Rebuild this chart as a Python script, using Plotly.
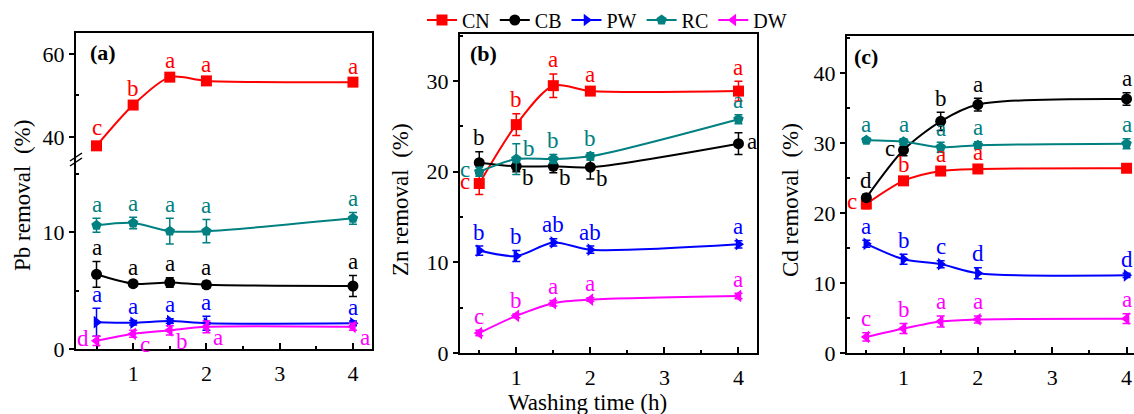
import plotly.graph_objects as go

W, H = 1134, 414
FONT = "Liberation Serif, Times New Roman, Times, serif"

x_time = [0.5, 1, 1.5, 2, 4]
series_names = ["CN", "CB", "PW", "RC", "DW"]

# ---- Pb removal (%) ----
pb_CN = [37.9, 47.7, 54.4, 53.5, 53.2]
pb_CN_err = [1.0, 0.5, 0.6, 0.5, 0.5]
pb_CB = [6.4, 5.6, 5.7, 5.5, 5.4]
pb_CB_err = [1.1, 0.2, 0.4, 0.3, 0.9]
pb_PW = [2.3, 2.25, 2.4, 2.2, 2.2]
pb_PW_err = [1.2, 0.2, 0.2, 0.6, 0.2]
pb_RC = [10.6, 10.8, 10.1, 10.1, 11.2]
pb_RC_err = [0.6, 0.5, 1.1, 1.0, 0.5]
pb_DW = [0.7, 1.3, 1.6, 1.9, 1.9]
pb_DW_err = [0.4, 0.3, 0.4, 0.5, 0.3]
pb_letters = {
    "CN": ["c", "b", "a", "a", "a"],
    "CB": ["a", "a", "a", "a", "a"],
    "PW": ["a", "a", "a", "a", "a"],
    "RC": ["a", "a", "a", "a", "a"],
    "DW": ["d", "c", "b", "a", "a"],
}

# ---- Zn removal (%) ----
zn_CN = [18.7, 25.2, 29.5, 28.9, 28.9]
zn_CN_err = [1.2, 1.2, 1.3, 0.3, 1.1]
zn_CB = [21.0, 20.6, 20.6, 20.5, 23.1]
zn_CB_err = [1.2, 0.6, 0.7, 1.3, 1.2]
zn_PW = [11.3, 10.7, 12.2, 11.4, 12.0]
zn_PW_err = [0.5, 0.6, 0.4, 0.4, 0.4]
zn_RC = [20.0, 21.4, 21.4, 21.7, 25.8]
zn_RC_err = [0.5, 1.7, 0.5, 0.4, 0.5]
zn_DW = [2.2, 4.1, 5.5, 5.9, 6.3]
zn_DW_err = [0.3, 0.2, 0.3, 0.2, 0.3]
zn_letters = {
    "CN": ["c", "b", "a", "a", "a"],
    "CB": ["b", "b", "b", "b", "a"],
    "PW": ["b", "b", "ab", "ab", "a"],
    "RC": ["c", "b", "b", "b", "a"],
    "DW": ["c", "b", "a", "a", "a"],
}

# ---- Cd removal (%) ----
cd_CN = [21.3, 24.6, 26.0, 26.3, 26.4]
cd_CN_err = [0.7, 0.4, 0.4, 0.4, 0.4]
cd_CB = [22.2, 29.0, 33.1, 35.5, 36.3]
cd_CB_err = [0.5, 0.8, 1.3, 0.9, 0.9]
cd_PW = [15.6, 13.4, 12.7, 11.4, 11.1]
cd_PW_err = [0.5, 0.7, 0.5, 0.8, 0.3]
cd_RC = [30.4, 30.2, 29.4, 29.7, 29.9]
cd_RC_err = [0.3, 0.4, 0.7, 0.5, 0.7]
cd_DW = [2.3, 3.5, 4.5, 4.8, 4.9]
cd_DW_err = [0.6, 0.7, 0.8, 0.5, 0.7]
cd_letters = {
    "CN": ["c", "b", "a", "a", "a"],
    "CB": ["d", "c", "b", "a", "a"],
    "PW": ["a", "b", "c", "d", "d"],
    "RC": ["a", "a", "a", "a", "a"],
    "DW": ["c", "b", "a", "a", "a"],
}

# ---- styles (kept separate from data) ----
colors = {"CN": "#ff0000", "CB": "#000000", "PW": "#0000ff", "RC": "#008080", "DW": "#ff00ff"}
symbols = {"CN": "square", "CB": "circle", "PW": "triangle-right", "RC": "pentagon", "DW": "triangle-left"}
# letter placement codes: u = above error bar, l = left, r = right, rd = right-down, ru = right-up
pb_pos = {
    "CN": ["u"] * 5, "CB": ["u"] * 5, "PW": ["u"] * 5, "RC": ["u"] * 5,
    "DW": ["l", "rd", "rd", "rd", "rd"],
}
zn_pos = {
    "CN": ["l", "u", "u", "u", "u"],
    "CB": ["u", "rd", "rd", "rd", "r"],
    "PW": ["u"] * 5,
    "RC": ["l", "ru", "u", "u", "u"],
    "DW": ["u"] * 5,
}
cd_pos = {
    "CN": ["l", "u", "u", "u", "r"],
    "CB": ["u", "l", "u", "u", "u"],
    "PW": ["u"] * 5, "RC": ["u"] * 5, "DW": ["u"] * 5,
}

fig = go.Figure()


def px_x(p):
    return p / W


def px_y(p):
    return 1 - p / H


panels = [
    (
        {"CN": pb_CN, "CB": pb_CB, "PW": pb_PW, "RC": pb_RC, "DW": pb_DW},
        {"CN": pb_CN_err, "CB": pb_CB_err, "PW": pb_PW_err, "RC": pb_RC_err, "DW": pb_DW_err},
        pb_letters, pb_pos,
        {"CN": ("x2", "y2"), "CB": ("x", "y"), "PW": ("x", "y"), "RC": ("x", "y"), "DW": ("x", "y")},
    ),
    (
        {"CN": zn_CN, "CB": zn_CB, "PW": zn_PW, "RC": zn_RC, "DW": zn_DW},
        {"CN": zn_CN_err, "CB": zn_CB_err, "PW": zn_PW_err, "RC": zn_RC_err, "DW": zn_DW_err},
        zn_letters, zn_pos,
        {s: ("x3", "y3") for s in series_names},
    ),
    (
        {"CN": cd_CN, "CB": cd_CB, "PW": cd_PW, "RC": cd_RC, "DW": cd_DW},
        {"CN": cd_CN_err, "CB": cd_CB_err, "PW": cd_PW_err, "RC": cd_RC_err, "DW": cd_DW_err},
        cd_letters, cd_pos,
        {s: ("x4", "y4") for s in series_names},
    ),
]

annotations = []
for pi, (vals, errs, letters, pos, axes) in enumerate(panels):
    for s in series_names:
        xa, ya = axes[s]
        fig.add_trace(go.Scatter(
            x=x_time, y=vals[s], name=s, mode="lines+markers",
            xaxis=xa, yaxis=ya,
            line=dict(color=colors[s], width=2, shape="spline", smoothing=0.8),
            marker=dict(symbol=symbols[s], size=11, color=colors[s]),
            error_y=dict(type="data", array=errs[s], color=colors[s], thickness=1.5, width=4),
            showlegend=(pi == 1), legendgroup=s, cliponaxis=False,
        ))
        for i, t in enumerate(letters[s]):
            code = pos[s][i]
            yv = vals[s][i]
            xs, ys = 0, 0
            if code == "u":
                yv = vals[s][i] + errs[s][i]
                ys = 14
            elif code == "l":
                xs, ys = -14, 2
            elif code == "r":
                xs, ys = 14, 2
            elif code == "rd":
                xs, ys = 12, -11
            elif code == "ru":
                xs, ys = 13, 11
            annotations.append(dict(
                x=x_time[i], y=yv, xref=xa, yref=ya, text=t, showarrow=False,
                xshift=xs, yshift=ys, font=dict(family=FONT, size=23, color=colors[s]),
            ))

# panel labels
for lab, px0, py0 in [("(a)", 88, 52), ("(b)", 468, 53), ("(c)", 852, 57)]:
    annotations.append(dict(
        x=px_x(px0), y=px_y(py0), xref="paper", yref="paper", text=f"<b>{lab}</b>",
        showarrow=False, xanchor="left", yanchor="middle",
        font=dict(family=FONT, size=22, color="black"),
    ))

# axis titles
for txt, px0, py0 in [("Pb removal\u00a0\u00a0(%)", 22, 196), ("Zn removal\u00a0\u00a0(%)", 401, 200),
                      ("Cd removal\u00a0\u00a0(%)", 791, 200)]:
    annotations.append(dict(
        x=px_x(px0), y=px_y(py0), xref="paper", yref="paper", text=txt, textangle=-90,
        showarrow=False, xanchor="center", yanchor="middle",
        font=dict(family=FONT, size=23, color="black"),
    ))
annotations.append(dict(
    x=px_x(587), y=px_y(402), xref="paper", yref="paper", text="Washing time (h)",
    showarrow=False, xanchor="center", yanchor="middle",
    font=dict(family=FONT, size=23, color="black"),
))

tickfont = dict(family=FONT, size=22, color="black")
xcommon = dict(
    tickvals=[1, 2, 3, 4], ticks="inside", ticklen=6, tickwidth=1.5, tickcolor="black",
    minor=dict(tickvals=[0.5, 1.5, 2.5, 3.5], ticks="inside", ticklen=3, tickcolor="black", tickwidth=1.5),
    showline=True, linecolor="black", linewidth=2, showgrid=False, zeroline=False,
    tickfont=tickfont, automargin=False, ticklabelstandoff=4,
)
ycommon = dict(
    ticks="outside", ticklen=5, tickwidth=1.5, tickcolor="black",
    showline=True, linecolor="black", linewidth=2, showgrid=False, zeroline=False,
    tickfont=tickfont, automargin=False,
)

a_x = [px_x(76), px_x(372)]
b_x = [px_x(460), px_x(757)]
c_x = [px_x(847), 1.0]

fig.update_layout(
    template="none",
    width=W, height=H, margin=dict(l=0, r=0, t=0, b=0, autoexpand=False),
    paper_bgcolor="white", plot_bgcolor="white",
    font=dict(family=FONT, color="black"),
    showlegend=True,
    legend=dict(
        orientation="h", x=px_x(422), y=px_y(20), xanchor="left", yanchor="middle",
        font=dict(family=FONT, size=20, color="black"), bgcolor="rgba(0,0,0,0)",
        itemwidth=30, tracegroupgap=0,
    ),
    xaxis=dict(domain=a_x, range=[0.22, 4.26], anchor="y", **xcommon),
    yaxis=dict(domain=[px_y(349), px_y(160)], range=[0, 16.2], anchor="x", mirror=True,
               tickvals=[0, 10], minor=dict(tickvals=[5, 15], ticks="inside", ticklen=3, tickcolor="black"),
               **ycommon),
    xaxis2=dict(domain=a_x, range=[0.22, 4.26], anchor="y2", side="top", showline=True, linecolor="black",
                linewidth=2, showticklabels=False, ticks="", showgrid=False, zeroline=False, automargin=False),
    yaxis2=dict(domain=[px_y(160), px_y(33)], range=[34.5, 65], anchor="x2", mirror=True,
                tickvals=[40, 60], minor=dict(tickvals=[50], ticks="inside", ticklen=3, tickcolor="black"),
                **ycommon),
    xaxis3=dict(domain=b_x, range=[0.24, 4.25], anchor="y3", mirror=True, **xcommon),
    yaxis3=dict(domain=[px_y(353), px_y(34)], range=[0, 35.2], anchor="x3", mirror=True,
                tickvals=[0, 10, 20, 30], minor=dict(tickvals=[5, 15, 25, 35], ticks="inside", ticklen=3, tickcolor="black"),
                **ycommon),
    xaxis4=dict(domain=c_x, range=[0.24, 4.1], anchor="y4", mirror=True, **xcommon),
    yaxis4=dict(domain=[px_y(353), px_y(36)], range=[0, 45.3], anchor="x4",
                tickvals=[0, 10, 20, 30, 40], minor=dict(tickvals=[5, 15, 25, 35, 45], ticks="inside", ticklen=3, tickcolor="black"),
                **ycommon),
    annotations=annotations,
)

for dy in (0, 5):
    fig.add_shape(type="line", xref="paper", yref="paper",
                  x0=px_x(70), y0=px_y(166 - dy), x1=px_x(82), y1=px_y(158 - dy),
                  line=dict(color="black", width=1.5))

fig.write_html("out.html")
